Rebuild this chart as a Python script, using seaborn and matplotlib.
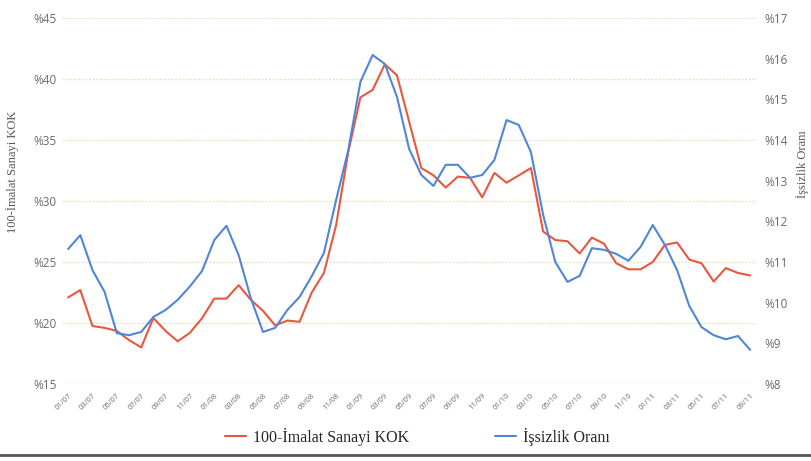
import numpy as np
import pandas as pd
import seaborn as sns
import matplotlib.pyplot as plt
from matplotlib.lines import Line2D

# aylar 01/07 .. 09/11
months = [f"{m:02d}/{y:02d}" for y in range(7, 12) for m in range(1, 13)][:57]

kok = [22.1, 22.7, 19.75, 19.6, 19.35, 18.6, 18.0, 20.4, 19.35, 18.5,
       19.2, 20.4, 22.0, 22.0, 23.1, 21.9, 21.0, 19.8, 20.2, 20.1,
       22.5, 24.1, 28.0, 34.0, 38.5, 39.1, 41.2, 40.3, 36.5, 32.7,
       32.1, 31.1, 32.0, 31.9, 30.3, 32.3, 31.5, 32.1, 32.7, 27.5,
       26.8, 26.7, 25.7, 27.0, 26.5, 24.9, 24.4, 24.4, 25.0, 26.4,
       26.6, 25.2, 24.9, 23.4, 24.5, 24.1, 23.9]

issizlik = [11.32, 11.66, 10.8, 10.26, 9.25, 9.2, 9.28, 9.65, 9.82, 10.07,
            10.4, 10.78, 11.54, 11.89, 11.17, 10.11, 9.28, 9.38, 9.82, 10.14,
            10.65, 11.22, 12.52, 13.75, 15.43, 16.09, 15.87, 15.06, 13.78, 13.14,
            12.87, 13.39, 13.39, 13.07, 13.14, 13.51, 14.49, 14.37, 13.7, 12.16,
            11.0, 10.51, 10.66, 11.34, 11.3, 11.2, 11.03, 11.37, 11.91, 11.42,
            10.8, 9.92, 9.4, 9.2, 9.1, 9.18, 8.84]

left_ticks = [15, 20, 25, 30, 35, 40, 45]
right_ticks = [8, 9, 10, 11, 12, 13, 14, 15, 16, 17]

df = pd.DataFrame({"i": range(len(months)), "kok": kok, "issizlik": issizlik})

red = "#e9573f"
blue = "#4f86d8"
tick_col = "#6a6a6a"

sns.set_style("white")
fig = plt.figure(figsize=(8.11, 4.61), dpi=100)
ax = fig.add_axes([0.0765, 0.167, 0.856, 0.794])
ax2 = ax.twinx()

sns.lineplot(data=df, x="i", y="kok", ax=ax, color=red, linewidth=1.5)
sns.lineplot(data=df, x="i", y="issizlik", ax=ax2, color=blue, linewidth=1.5)

ax.set_xlim(-0.5, 56.5)
ax.set_ylim(15, 45)
ax2.set_ylim(8, 17)
ax.set_yticks(left_ticks)
ax.set_yticklabels([f"%{t}" for t in left_ticks], fontsize=8.5, color=tick_col, family="Open Sans")
ax2.set_yticks(right_ticks)
ax2.set_yticklabels([f"%{t}" for t in right_ticks], fontsize=8.5, color=tick_col, family="Open Sans")
ax.set_xticks(range(0, len(months), 2))
ax.set_xticklabels(months[::2], rotation=45, ha="right", rotation_mode="anchor",
                   fontsize=5.5, color=tick_col, family="Open Sans")
ax.tick_params(axis="both", length=0, pad=4)
ax2.tick_params(axis="y", length=0, pad=6)
ax.tick_params(axis="x", pad=6)

ax.grid(axis="y", color="#e9e6c3", linestyle=(0, (2, 1)), linewidth=0.9)
ax.set_axisbelow(True)
for a in (ax, ax2):
    for s in a.spines.values():
        s.set_visible(False)

ax.set_xlabel("")
ax.set_ylabel("100-İmalat Sanayi KOK", family="Liberation Serif", fontsize=9, color="#555555")
ax.yaxis.set_label_coords(-0.062, 0.58)
ax2.set_ylabel("İşsizlik Oranı", family="Liberation Serif", fontsize=9, color="#555555")
ax2.yaxis.set_label_coords(1.057, 0.6)

handles = [Line2D([], [], color=red, linewidth=1.5), Line2D([], [], color=blue, linewidth=1.5)]
fig.legend(handles, ["100-İmalat Sanayi KOK", "İşsizlik Oranı"], loc="center",
           bbox_to_anchor=(0.515, 0.052), ncol=2, frameon=False, columnspacing=5.4,
           handlelength=1.3, handletextpad=0.45,
           prop={"family": "Liberation Serif", "size": 11.5})

fig.add_artist(Line2D([0, 1], [0.012, 0.012], color="#555555", linewidth=2))

fig.savefig("out.png", dpi=100)
